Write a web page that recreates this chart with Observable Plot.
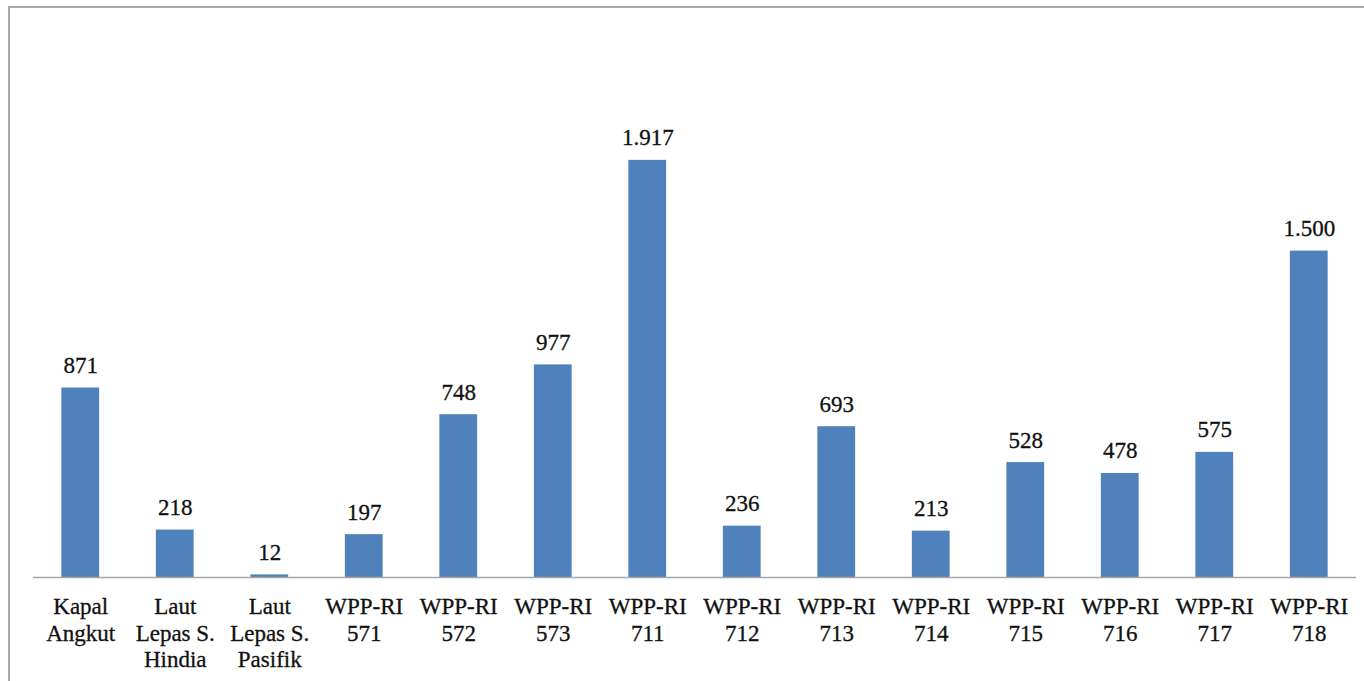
<!DOCTYPE html>
<html>
<head>
<meta charset="utf-8">
<script src="https://cdn.jsdelivr.net/npm/d3@7"></script>
<script src="https://cdn.jsdelivr.net/npm/@observablehq/plot@0.6"></script>
<style>
  html, body { margin: 0; padding: 0; background: #fff; overflow: hidden; font-family: "Liberation Serif"; }
  #frame { position: absolute; left: 8px; top: 6px; width: 1420px; height: 720px; border: 2px solid #a9a9a9; box-sizing: border-box; }
  #chart { position: absolute; left: 0; top: 0; }
  #chart text { stroke: #111; stroke-width: 0.3px; }
</style>
</head>
<body>
<div id="frame"></div>
<div id="chart"></div>
<script>
const categories = [
  "Kapal\nAngkut",
  "Laut\nLepas S.\nHindia",
  "Laut\nLepas S.\nPasifik",
  "WPP-RI\n571",
  "WPP-RI\n572",
  "WPP-RI\n573",
  "WPP-RI\n711",
  "WPP-RI\n712",
  "WPP-RI\n713",
  "WPP-RI\n714",
  "WPP-RI\n715",
  "WPP-RI\n716",
  "WPP-RI\n717",
  "WPP-RI\n718"
];
const values = [871, 218, 12, 197, 748, 977, 1917, 236, 693, 213, 528, 478, 575, 1500];

const data = categories.map((c, i) => ({category: c, value: values[i]}));
const fmt = d3.formatLocale({decimal: ",", thousands: ".", grouping: [3], currency: ["", ""]}).format(",d");
const serif = "Liberation Serif";

const plot = Plot.plot({
  width: 1364,
  height: 681,
  marginTop: 33,
  marginBottom: 104,
  marginLeft: 33,
  marginRight: 8,
  style: {fontFamily: serif, fontSize: "23px", background: "transparent", color: "#111"},
  x: {domain: categories, paddingInner: 0.6, paddingOuter: 0.3, round: false, label: null},
  y: {domain: [0, 2500], axis: null},
  marks: [
    Plot.barY(data, {x: "category", y: "value", fill: "#4f81bd"}),
    Plot.ruleY([0], {stroke: "#a6a6a6", strokeWidth: 1.5}),
    Plot.text(data, {x: "category", y: "value", text: d => fmt(d.value), lineAnchor: "bottom", dy: -15, fill: "#111", fontSize: 23, fontFamily: serif}),
    Plot.axisX({tickSize: 0, tickPadding: 17, lineHeight: 1.17, fontSize: 23, fontFamily: serif, fill: "#111", label: null})
  ]
});
document.getElementById("chart").appendChild(plot);
document.querySelectorAll("#chart text").forEach(el => el.setAttribute("font-family", serif));
</script>
</body>
</html>
